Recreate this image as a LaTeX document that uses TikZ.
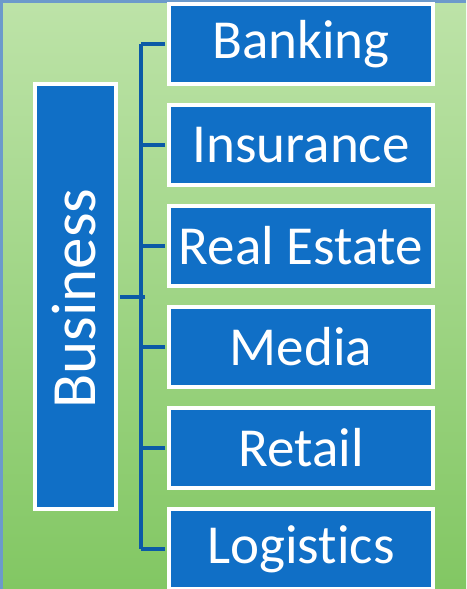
\documentclass[tikz,border=0pt]{standalone}
\usepackage{fontspec}
\setmainfont{Carlito}[Ligatures={NoCommon,NoContextual,NoRare}]
\definecolor{boxblue}{HTML}{106FC6}
\definecolor{linkblue}{HTML}{0B5AA6}
\definecolor{frameblue}{HTML}{6C9ACB}
\definecolor{bgtop}{HTML}{BDE3A8}
\definecolor{bgbot}{HTML}{82C763}
\tikzset{
  x=1pt,y=-1pt,
  itembox/.style={draw=white, line width=4pt, fill=boxblue, text=white,
    minimum width=264pt, minimum height=80pt, inner sep=0pt,
    font=\fontsize{55}{60}\selectfont},
  bizbox/.style={draw=white, line width=4pt, fill=boxblue, text=white,
    minimum width=81pt, minimum height=425pt, inner sep=0pt},
  conn/.style={draw=linkblue, line width=4pt}
}
\begin{document}
\begin{tikzpicture}
\useasboundingbox (0,0) rectangle (466,589);
\shade[top color=bgtop, bottom color=bgbot] (0,0) rectangle (466,589);
\fill[frameblue] (0,0) rectangle (466,3);
\fill[frameblue] (0,0) rectangle (3,589);
\coordinate (spine) at (143,0);
\node[bizbox] (bus) at (75.5,296.5) {};
\node[rotate=90, text=white, font=\fontsize{63}{70}\selectfont] (buslabel) at ([xshift=-1pt,yshift=-2pt]bus.center) {Business};
\node[itembox] (b1) at (301,44) {Banking};
\node[itembox] (b2) at (301,145) {Insurance};
\node[itembox] (b3) at (301,246) {Real Estate};
\node[itembox] (b4) at (301,347) {Media};
\node[itembox] (b5) at (301,448) {Retail};
\node[itembox] (b6) at (301,549) {Logist\kern0pt ics};
\draw[conn] ([xshift=-2pt]b1.west -| spine) -- ([xshift=-2pt]b6.west -| spine);
\foreach \b in {b1,b2,b3,b4,b5,b6}{
  \draw[conn, shorten <=2pt, shorten >=-2pt] (\b.west) -- (\b.west -| spine);
}
\draw[conn, shorten <=2pt, shorten >=-2pt] (bus.east) -- (bus.east -| spine);
\end{tikzpicture}
\end{document}
